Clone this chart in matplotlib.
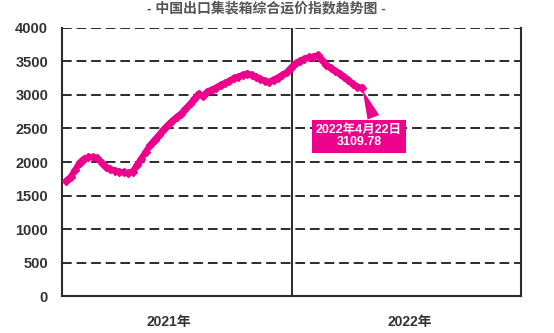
import matplotlib
matplotlib.use('Agg')
import matplotlib.pyplot as plt
import numpy as np
import datetime as dt

plt.rcParams['font.family'] = ['Liberation Sans', 'Noto Sans CJK SC']

# weekly CCFI values (2021-01-08 .. 2022-04-22)
start = dt.date(2021, 1, 8)
values = [1720, 1780, 1880, 1990, 2050, 2070, 2075, 2060, 1990, 1920,
          1890, 1870, 1855, 1845, 1840, 1855, 1950, 2050, 2150, 2250,
          2330, 2400, 2480, 2550, 2610, 2670, 2720, 2790, 2860, 2940,
          3020, 2980, 3050, 3080, 3110, 3150, 3180, 3210, 3250, 3270,
          3300, 3320, 3300, 3270, 3240, 3210, 3190, 3230, 3260, 3300,
          3340, 3410, 3470, 3510, 3540, 3560, 3570, 3590, 3520, 3450,
          3400, 3360, 3320, 3270, 3220, 3160, 3120, 3109.78]
dates = [start + dt.timedelta(weeks=i) for i in range(len(values))]

yticks = [0, 500, 1000, 1500, 2000, 2500, 3000, 3500, 4000]
year_labels = ['2021年', '2022年']
year_pos = [dt.date(2021, 6, 20), dt.date(2022, 7, 8)]
last_label = '2022年4月22日\n3109.78'
title = '- 中国出口集装箱综合运价指数趋势图 -'

pink = '#EC008C'
dark = '#2b2b2b'

fig = plt.figure(figsize=(5.54, 3.33), dpi=100)
ax = fig.add_axes([0.1119, 0.111, 0.8285, 0.805])

for y in yticks[1:]:
    ax.axhline(y, color=dark, lw=1.4, ls=(0, (5, 2.5)), zorder=1)

ax.axvline(dt.date(2022, 1, 1), color=dark, lw=1.4, zorder=1)

ax.plot(dates, values, color=pink, lw=4.5, marker='D', ms=4.5, zorder=3)

ax.annotate(last_label, xy=(dates[-1], values[-1]), xytext=(-2, -35),
            textcoords='offset points', ha='center', va='center',
            color='white', fontsize=9, fontweight='bold', linespacing=1.0,
            bbox=dict(boxstyle='square,pad=0.35', fc=pink, ec='none'),
            arrowprops=dict(arrowstyle='wedge,tail_width=1.0,shrink_factor=0.5',
                            fc=pink, ec='none', relpos=(0.7, 1.0)),
            zorder=5)

ax.set_ylim(0, 4000)
ax.set_xlim(dt.date(2021, 1, 1), dt.date(2022, 12, 31))
ax.set_yticks(yticks)
ax.set_yticklabels([str(v) for v in yticks], fontsize=10.5, fontweight='bold', color='#333333')
ax.set_xticks(year_pos)
ax.set_xticklabels(year_labels, fontsize=10, fontweight='bold', color='#333333')
ax.tick_params(axis='both', length=0)
ax.tick_params(axis='y', pad=10)
ax.tick_params(axis='x', pad=14)

ax.spines['top'].set_visible(False)
for s in ['left', 'bottom', 'right']:
    ax.spines[s].set_color(dark)
    ax.spines[s].set_linewidth(1.5)

fig.text(0.48, 0.975, title, ha='center', va='center', fontsize=10,
         fontweight='bold', color='#555555')

fig.savefig('out.png', dpi=100)
